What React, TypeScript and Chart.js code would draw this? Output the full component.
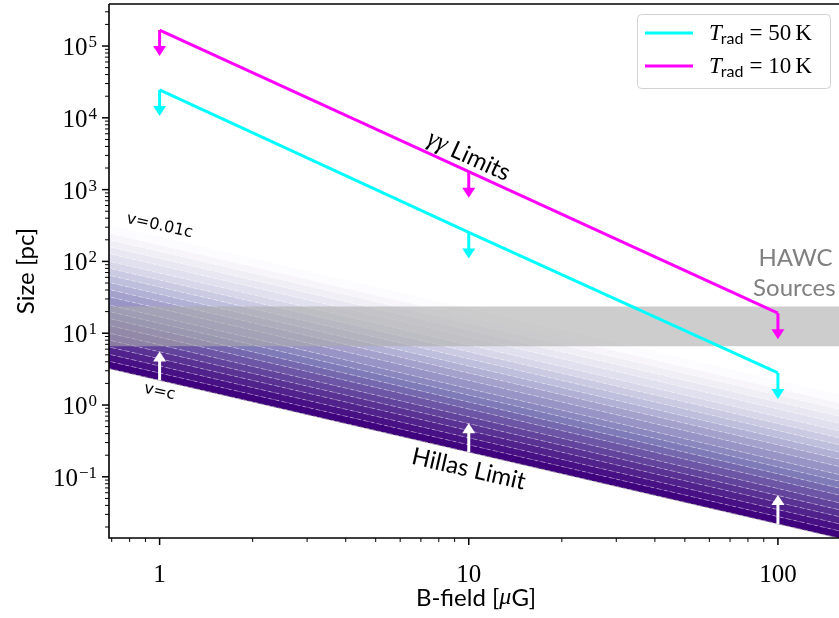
import React, { useEffect, useRef } from 'react';
import { Chart, registerables } from 'chart.js';

Chart.register(...registerables);

// ---------------- data ----------------
const limitFields = [1, 10, 100]; // B-field [μG]
const size50K = [2.45e4, 253, 2.8]; // pc, T_rad = 50 K
const size10K = [1.67e5, 1.78e3, 19]; // pc, T_rad = 10 K
const hillasFields = [0.6, 200]; // B-field endpoints of the Hillas line
const hillasSizeAtC = [3.67, 0.011]; // size for v = c at those endpoints
const hillasArrowFields = [1, 10, 100];
const hillasArrowSizes = [2.2, 0.22, 0.022];
const velocityFractions = [1, 0.79, 0.63, 0.5, 0.4, 0.32, 0.25, 0.2, 0.16, 0.13, 0.1, 0.079, 0.063, 0.05, 0.04, 0.032, 0.025, 0.02, 0.016, 0.013, 0.01];
const hawcFields = [0.6, 200];
const hawcSizeRange = [6.6, 23.5];
const xTickValues = [1, 10, 100];
const xTickLabels = ['1', '10', '100'];
const yTickExponents = [-1, 0, 1, 2, 3, 4, 5];
const legendTemps = ['50', '10'];
const legendColors = ['#00ffff', '#ff00ff'];

const X_MIN = 0.686;
const X_MAX = 157.6;
const Y_MIN = 0.01405;
const Y_MAX = 3.85e5;

const SERIF = '"Liberation Serif", "DejaVu Serif", serif';
const SANS = '"Lato", "Liberation Sans", sans-serif';
const DEJAVU = '"DejaVu Sans", sans-serif';

const purplesStops = [
  [252, 251, 253], [239, 237, 245], [218, 218, 235], [188, 189, 220], [158, 154, 200],
  [128, 125, 186], [106, 81, 163], [84, 39, 143], [63, 0, 125],
];
function purples(t: number) {
  const p = Math.max(0, Math.min(1, t)) * (purplesStops.length - 1);
  const i = Math.min(Math.floor(p), purplesStops.length - 2);
  const f = p - i;
  const a = purplesStops[i], b = purplesStops[i + 1];
  const c = a.map((v, k) => Math.round(v + (b[k] - v) * f));
  return `rgb(${c[0]},${c[1]},${c[2]})`;
}

function buildDatasets() {
  const ds: any[] = [];
  const nBands = velocityFractions.length - 1;
  velocityFractions.forEach((v, k) => {
    const data = hillasFields.map((b, i) => ({ x: b, y: hillasSizeAtC[i] / v }));
    if (k === 0) {
      ds.push({
        data, borderColor: 'rgba(175,175,175,0.9)', borderWidth: 1, borderDash: [4, 2],
        pointRadius: 0, fill: false, order: 10,
      });
    } else {
      ds.push({
        data,
        borderColor: k === nBands ? 'rgba(0,0,0,0)' : 'rgba(255,255,255,0.45)',
        borderWidth: 0.8, borderDash: [4, 3], pointRadius: 0,
        fill: '-1', backgroundColor: purples(1 - (k - 1) / (nBands - 1)), order: 10,
      });
    }
  });
  ds.push({
    data: hawcFields.map((b) => ({ x: b, y: hawcSizeRange[0] })),
    borderWidth: 0, borderColor: 'rgba(0,0,0,0)', pointRadius: 0, fill: false, order: 5,
  });
  ds.push({
    data: hawcFields.map((b) => ({ x: b, y: hawcSizeRange[1] })),
    borderWidth: 0, borderColor: 'rgba(0,0,0,0)', pointRadius: 0, fill: '-1',
    backgroundColor: 'rgba(172,172,172,0.6)', order: 5,
  });
  ds.push({
    label: 'T_rad = 50 K', data: limitFields.map((b, i) => ({ x: b, y: size50K[i] })),
    borderColor: '#00ffff', borderWidth: 3, pointRadius: 0, fill: false, order: 1,
  });
  ds.push({
    label: 'T_rad = 10 K', data: limitFields.map((b, i) => ({ x: b, y: size10K[i] })),
    borderColor: '#ff00ff', borderWidth: 3, pointRadius: 0, fill: false, order: 1,
  });
  return ds;
}

function drawArrow(ctx: CanvasRenderingContext2D, x: number, y0: number, dir: number, color: string, len: number) {
  const headL = 10, headW = 13;
  const tip = y0 + dir * len;
  ctx.save();
  ctx.strokeStyle = color;
  ctx.lineWidth = 3;
  ctx.beginPath();
  ctx.moveTo(x, y0);
  ctx.lineTo(x, tip - dir * (headL - 1));
  ctx.stroke();
  ctx.fillStyle = color;
  ctx.beginPath();
  ctx.moveTo(x - headW / 2, tip - dir * headL);
  ctx.lineTo(x + headW / 2, tip - dir * headL);
  ctx.lineTo(x, tip);
  ctx.closePath();
  ctx.fill();
  ctx.restore();
}

type Part = { text: string; font: string };
function drawParts(ctx: CanvasRenderingContext2D, parts: Part[], x: number, y: number, angleDeg: number, color: string) {
  ctx.save();
  ctx.translate(x, y);
  ctx.rotate((angleDeg * Math.PI) / 180);
  ctx.fillStyle = color;
  ctx.textBaseline = 'middle';
  ctx.textAlign = 'left';
  let w = 0;
  parts.forEach((p) => { ctx.font = p.font; w += ctx.measureText(p.text).width; });
  let cx = -w / 2;
  parts.forEach((p) => { ctx.font = p.font; ctx.fillText(p.text, cx, 0); cx += ctx.measureText(p.text).width; });
  ctx.restore();
}

const decor = {
  id: 'decor',
  afterDatasetsDraw(chart: any) {
    const { ctx, scales } = chart;
    const x = scales.x, y = scales.y;
    limitFields.forEach((b, i) => {
      drawArrow(ctx, x.getPixelForValue(b), y.getPixelForValue(size50K[i]), 1, '#00ffff', 26);
      drawArrow(ctx, x.getPixelForValue(b), y.getPixelForValue(size10K[i]), 1, '#ff00ff', 26);
    });
    hillasArrowFields.forEach((b, i) => {
      drawArrow(ctx, x.getPixelForValue(b), y.getPixelForValue(hillasArrowSizes[i]), -1, '#ffffff', 29);
    });
  },
  afterDraw(chart: any) {
    const { ctx, chartArea: ca, scales } = chart;
    const x = scales.x, y = scales.y;
    ctx.save();
    // spines
    ctx.strokeStyle = '#000';
    ctx.lineWidth = 1.6;
    ctx.beginPath();
    ctx.moveTo(ca.left, ca.top);
    ctx.lineTo(ca.right + 2, ca.top);
    ctx.moveTo(ca.left, ca.top);
    ctx.lineTo(ca.left, ca.bottom);
    ctx.lineTo(ca.right + 2, ca.bottom);
    ctx.stroke();

    // x ticks
    for (let e = -1; e <= 2; e++) {
      for (let m = 1; m <= 9; m++) {
        const v = m * Math.pow(10, e);
        if (v < X_MIN || v > X_MAX) continue;
        const px = x.getPixelForValue(v);
        const major = m === 1;
        ctx.lineWidth = major ? 1.5 : 1;
        ctx.beginPath();
        ctx.moveTo(px, ca.bottom);
        ctx.lineTo(px, ca.bottom + (major ? 7 : 4));
        ctx.stroke();
      }
    }
    // y ticks
    for (let e = -2; e <= 5; e++) {
      for (let m = 1; m <= 9; m++) {
        const v = m * Math.pow(10, e);
        if (v < Y_MIN || v > Y_MAX) continue;
        const py = y.getPixelForValue(v);
        const major = m === 1;
        ctx.lineWidth = major ? 1.5 : 1;
        ctx.beginPath();
        ctx.moveTo(ca.left, py);
        ctx.lineTo(ca.left - (major ? 7 : 4), py);
        ctx.stroke();
      }
    }
    // tick labels
    ctx.fillStyle = '#000';
    ctx.font = `25px ${SERIF}`;
    ctx.textAlign = 'center';
    ctx.textBaseline = 'alphabetic';
    xTickValues.forEach((v, i) => {
      ctx.fillText(xTickLabels[i], x.getPixelForValue(v), ca.bottom + 44);
    });
    ctx.textAlign = 'right';
    yTickExponents.forEach((e) => {
      const py = y.getPixelForValue(Math.pow(10, e));
      const expText = e < 0 ? '\u2212' + Math.abs(e) : String(e);
      ctx.font = `17px ${SERIF}`;
      const ew = ctx.measureText(expText).width;
      const right = ca.left - 12;
      ctx.fillText(expText, right, py + 1);
      ctx.font = `25px ${SERIF}`;
      ctx.fillText('10', right - ew - 1, py + 9);
    });

    // axis titles
    drawParts(ctx, [{ text: 'Size [pc]', font: `24px ${SANS}` }], 26, 271, -90, '#000');
    drawParts(ctx, [
      { text: 'B-field [', font: `24px ${SANS}` },
      { text: '\u03bc', font: `italic 24px ${SERIF}` },
      { text: 'G]', font: `24px ${SANS}` },
    ], 476, 598, 0, '#000');

    // annotations
    drawParts(ctx, [
      { text: '\u03b3\u03b3', font: `italic 25px ${SERIF}` },
      { text: ' Limits', font: `24px ${SANS}` },
    ], x.getPixelForValue(10), y.getPixelForValue(2940), 24.6, '#000');
    drawParts(ctx, [{ text: 'Hillas Limit', font: `24px ${SANS}` }],
      x.getPixelForValue(10), y.getPixelForValue(0.128), 13, '#000');
    drawParts(ctx, [{ text: 'v=0.01c', font: `16px ${DEJAVU}` }],
      x.getPixelForValue(1), y.getPixelForValue(311), 12.5, '#000');
    drawParts(ctx, [{ text: 'v=c', font: `16px ${DEJAVU}` }],
      x.getPixelForValue(1), y.getPixelForValue(1.52), 12.5, '#000');
    drawParts(ctx, [{ text: 'HAWC', font: `24px ${SANS}` }],
      x.getPixelForValue(114), y.getPixelForValue(111), 0, '#808080');
    drawParts(ctx, [{ text: 'Sources', font: `24px ${SANS}` }],
      x.getPixelForValue(113), y.getPixelForValue(42.6), 0, '#808080');

    // legend
    const bx = 637.5, by = 14.5, bw = 193, bh = 74;
    ctx.beginPath();
    ctx.roundRect(bx, by, bw, bh, 4);
    ctx.fillStyle = 'rgba(255,255,255,0.85)';
    ctx.fill();
    ctx.strokeStyle = '#d2d2d2';
    ctx.lineWidth = 1;
    ctx.stroke();
    legendTemps.forEach((t, i) => {
      const ry = 33 + i * 33;
      ctx.strokeStyle = legendColors[i];
      ctx.lineWidth = 3;
      ctx.beginPath();
      ctx.moveTo(645, ry);
      ctx.lineTo(693, ry);
      ctx.stroke();
      ctx.fillStyle = '#000';
      ctx.textAlign = 'left';
      ctx.textBaseline = 'alphabetic';
      let cx = 709;
      const base = ry + 7;
      ctx.font = `italic 23px ${SERIF}`;
      ctx.fillText('T', cx, base);
      cx += ctx.measureText('T').width - 1;
      ctx.font = `16px ${SANS}`;
      ctx.fillText('rad', cx, base + 4);
      cx += ctx.measureText('rad').width + 6;
      ctx.font = `23px ${SERIF}`;
      ctx.fillText('=', cx, base);
      cx += ctx.measureText('=').width + 6;
      ctx.fillText(t, cx, base);
      cx += ctx.measureText(t).width + 4;
      ctx.fillText('K', cx, base);
    });
    ctx.restore();
  },
};

export default function App() {
  const ref = useRef<HTMLCanvasElement>(null);
  useEffect(() => {
    document.body.style.margin = '0';
    const chart = new Chart(ref.current as HTMLCanvasElement, {
      type: 'line',
      data: { datasets: buildDatasets() },
      options: {
        animation: false,
        responsive: false,
        events: [],
        layout: { padding: { top: 4, left: 0, right: 0, bottom: 0 } },
        elements: { line: { tension: 0 } },
        plugins: { legend: { display: false }, tooltip: { enabled: false } },
        scales: {
          x: {
            type: 'logarithmic', min: X_MIN, max: X_MAX,
            ticks: { display: false }, grid: { display: false }, border: { display: false },
            afterFit: (s: any) => { s.height = 80; },
          },
          y: {
            type: 'logarithmic', min: Y_MIN, max: Y_MAX,
            ticks: { display: false }, grid: { display: false }, border: { display: false },
            afterFit: (s: any) => { s.width = 109; },
          },
        },
      } as any,
      plugins: [decor],
    });
    return () => chart.destroy();
  }, []);
  return (
    <div style={{ position: 'absolute', left: 0, top: 0, width: 839, height: 618 }}>
      <canvas ref={ref} width={839} height={618} style={{ display: 'block', width: 839, height: 618 }} />
    </div>
  );
}
